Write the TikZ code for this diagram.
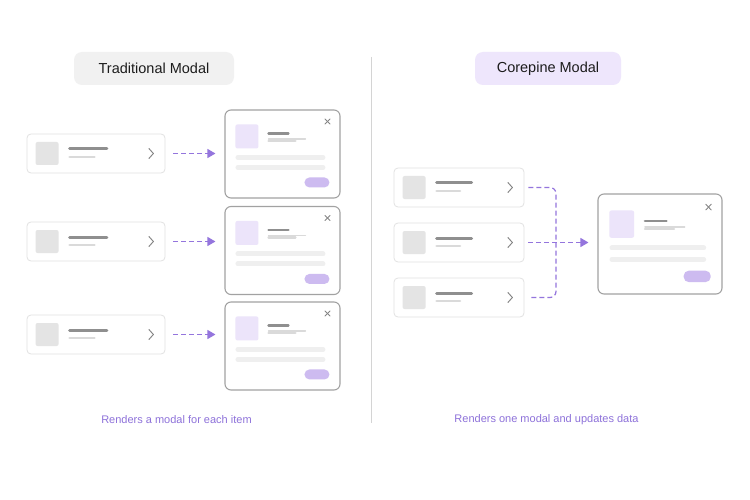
\documentclass[tikz,border=0pt]{standalone}
\usepackage{fontspec}
\setmainfont{Liberation Sans}
\usetikzlibrary{arrows.meta}
\definecolor{titlegray}{HTML}{F1F1F1}
\definecolor{titlelav}{HTML}{EEE6FC}
\definecolor{ink}{HTML}{1C1C1C}
\definecolor{purp}{HTML}{9475DD}
\definecolor{captxt}{HTML}{8E72DA}
\definecolor{itemborder}{HTML}{E2E2E2}
\definecolor{modalborder}{HTML}{A2A2A2}
\definecolor{graysq}{HTML}{E4E4E4}
\definecolor{lavsq}{HTML}{ECE4FA}
\definecolor{btn}{HTML}{CDBBF0}
\definecolor{darkbar}{HTML}{8F8F8F}
\definecolor{lightbar}{HTML}{DADADA}
\definecolor{widebar}{HTML}{EFEFEF}
\definecolor{divider}{HTML}{D4D4D4}
\definecolor{chev}{HTML}{858585}
\tikzset{
  pill/.style={rounded corners=8pt, minimum height=33pt, inner sep=0pt, font=\fontsize{14.5}{16}\selectfont, text=ink},
  itembox/.style={draw=itemborder, line width=0.8pt, fill=white, rounded corners=4pt, minimum height=39pt, inner sep=0pt},
  modalbox/.style={draw=modalborder, line width=1.1pt, fill=white, rounded corners=6pt, inner sep=0pt},
  flow/.style={draw=purp, line width=1.2pt, dash pattern=on 5pt off 3pt},
  flowarrow/.style={flow, -{Triangle[length=8pt,width=9pt,fill=purp]}},
  caption/.style={font=\fontsize{11}{13}\selectfont, text=captxt},
  bar/.style={line cap=round},
}
% list item: name, cx, cy, width
\newcommand\listitem[4]{%
  \node[itembox, minimum width=#4pt] (#1) at (#2,#3) {};
  \fill[graysq, rounded corners=2pt] ([xshift=9pt,yshift=11.5pt]#1.west) rectangle ([xshift=32pt,yshift=-11.5pt]#1.west);
  \draw[bar, darkbar, line width=3pt] ([xshift=43pt,yshift=4.5pt]#1.west) -- ++(#4pt*0.27,0);
  \draw[bar, lightbar, line width=2.6pt] ([xshift=43pt,yshift=-3.5pt]#1.west) -- ++(#4pt*0.18,0);
  \draw[chev, line width=0.95pt, line cap=round, line join=round] ([xshift=-16.5pt,yshift=5pt]#1.east) -- ([xshift=-12pt,yshift=0pt]#1.east) -- ([xshift=-16.5pt,yshift=-5pt]#1.east);
}
% modal: name, cx, cy, width, height
\newcommand\modalwin[5]{%
  \node[modalbox, minimum width=#4pt, minimum height=#5pt] (#1) at (#2,#3) {};
  \begin{scope}[shift={(#1.north west)}, xscale=#4/115, yscale=#5/88]
    \fill[lavsq, rounded corners=2pt] (11,15) rectangle (34,39);
    \draw[bar, darkbar, line width=2.4pt] (44,24) -- (64,24);
    \draw[bar, lightbar, line width=1.2pt] (44,29.5) -- (81,29.5);
    \draw[bar, lightbar, line width=2.2pt] (44,31.5) -- (71,31.5);
    \draw[bar, widebar, line width=5pt] (13.5,48) -- (98.5,48);
    \draw[bar, widebar, line width=5pt] (13.5,58) -- (98.5,58);
    \fill[btn, rounded corners=5pt] (80,68) rectangle (105,78);
    \draw[chev, line width=0.9pt, line cap=round] (100.5,9.5) -- (105.5,14.5);
    \draw[chev, line width=0.9pt, line cap=round] (105.5,9.5) -- (100.5,14.5);
  \end{scope}
}
\begin{document}
\begin{tikzpicture}[x=1pt,y=-1pt]
\useasboundingbox[fill=white] (0,0) rectangle (750,500);
% titles
\node[pill, fill=titlegray, minimum width=160pt] (tleft) at (154,68.5) {Traditional Modal};
\node[pill, fill=titlelav, minimum width=146pt] (tright) at (548,68.5) {Corepine Modal};
% divider
\coordinate (dtop) at (371,57);
\coordinate (dbot) at (371,423);
\draw[divider, line width=0.8pt] (dtop) -- (dbot);
% left side
\listitem{la}{96}{153.5}{138}
\listitem{lb}{96}{241.5}{138}
\listitem{lc}{96}{334.5}{138}
\modalwin{ma}{282.5}{154}{115}{88}
\modalwin{mb}{282.5}{250.5}{115}{88}
\modalwin{mc}{282.5}{346}{115}{88}
\draw[flowarrow] ([xshift=8pt]la.east) -- ([xshift=-9pt]la.east -| ma.west);
\draw[flowarrow] ([xshift=8pt]lb.east) -- ([xshift=-9pt]lb.east -| mb.west);
\draw[flowarrow] ([xshift=8pt]lc.east) -- ([xshift=-9pt]lc.east -| mc.west);
% right side
\listitem{ra}{459}{187.5}{130}
\listitem{rb}{459}{242.5}{130}
\listitem{rc}{459}{297.5}{130}
\modalwin{rm}{660}{244}{124}{100}
\coordinate (jtop) at (556,187.5);
\coordinate (jbot) at (556,297.5);
\draw[flow, rounded corners=6pt] ([xshift=4pt]ra.east) -- (jtop) -- (jbot) -- ([xshift=4pt]rc.east);
\draw[flowarrow] ([xshift=4pt]rb.east) -- ([xshift=-9pt]rb.east -| rm.west);
% captions
\node[caption] (capl) at (176.5,420) {Renders a modal for each item};
\node[caption] (capr) at (546.5,420) {Renders one modal and updates data};
\end{tikzpicture}
\end{document}
